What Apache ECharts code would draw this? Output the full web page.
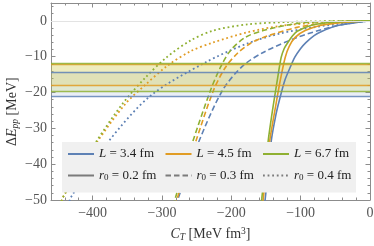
<!DOCTYPE html>
<html><head><meta charset="utf-8">
<script src="https://cdn.jsdelivr.net/npm/echarts@6/dist/echarts.min.js"></script>
<style>html,body{margin:0;padding:0;background:#fff}#c{width:374px;height:246px}</style>
</head><body><div id="c"></div>
<script>
// ---- data ----
const lLabels = ['L = 3.4 fm', 'L = 4.5 fm', 'L = 6.7 fm'];
const r0Labels = ['r0 = 0.2 fm', 'r0 = 0.3 fm', 'r0 = 0.4 fm'];

// L = 3.4 fm
const cT_L34_r02 = [-152.5, -151.1, -142.4, -136.0, -130.9, -123.0, -115.8, -108.6, -100.0, -92.1, -80.6, -69.1, -50.4, -33.1, -14.4, 0];
const dE_L34_r02 = [-51.7, -49.7, -33.5, -26.5, -22.3, -16.7, -13.3, -10.2, -7.7, -6.0, -4.1, -2.9, -1.5, -0.84, -0.28, 0];
const cT_L34_r03 = [-279.1, -276.3, -247.5, -213.0, -184.2, -154.0, -105.0, -57.6, -28.8, 0];
const dE_L34_r03 = [-51.7, -49.4, -34.0, -19.5, -12.7, -8.8, -4.6, -1.8, -0.64, 0];
const cT_L34_r04 = [-434.5, -431.7, -378.4, -316.5, -237.4, -177.0, -129.5, -82.0, -33.1, 0];
const dE_L34_r04 = [-51.7, -49.4, -34.0, -20.9, -11.6, -6.3, -3.5, -1.8, -0.56, 0];

// L = 4.5 fm
const cT_L45_r02 = [-155.4, -154.0, -144.6, -136.0, -129.5, -122.3, -116.5, -107.9, -93.5, -71.9, -46.0, -21.6, 0];
const dE_L45_r02 = [-51.7, -49.7, -33.5, -23.7, -16.7, -10.2, -7.1, -4.6, -2.7, -1.3, -0.56, -0.14, 0];
const cT_L45_r03 = [-280.6, -277.7, -251.8, -225.9, -208.6, -191.4, -172.7, -154.0, -105.0, -57.6, 0];
const dE_L45_r03 = [-51.7, -49.4, -34.0, -19.5, -13.0, -9.1, -6.3, -4.6, -1.8, -0.56, 0];
const cT_L45_r04 = [-446.0, -443.2, -394.2, -352.5, -323.7, -292.1, -259.0, -225.9, -177.0, -129.5, -82.0, -33.1, 0];
const dE_L45_r04 = [-51.7, -49.4, -34.0, -23.1, -17.8, -12.5, -8.5, -6.0, -3.2, -1.4, -0.56, -0.14, 0];

// L = 6.7 fm
const cT_L67_r02 = [-157.6, -156.1, -146.8, -143.9, -139.6, -133.8, -128.1, -123.7, -119.4, -112.2, -105.0, -82.0, -57.6, -28.8, 0];
const dE_L67_r02 = [-51.7, -49.7, -33.5, -29.3, -23.7, -16.7, -10.2, -7.7, -6.3, -4.3, -2.9, -1.1, -0.42, -0.14, 0];
const cT_L67_r03 = [-283.5, -280.6, -256.1, -230.2, -215.8, -201.4, -179.9, -154.0, -105.0, -57.6, 0];
const dE_L67_r03 = [-51.7, -49.4, -34.0, -19.5, -13.0, -8.3, -4.6, -2.7, -0.70, -0.14, 0];
const cT_L67_r04 = [-446.0, -443.2, -395.7, -356.8, -323.7, -293.5, -259.0, -226.0, -177.0, -115.1, -57.6, 0];
const dE_L67_r04 = [-51.7, -49.4, -34.0, -23.1, -15.8, -10.2, -5.5, -2.7, -0.98, -0.28, -0.08, 0];

// horizontal bands (per L): upper and lower edges
const bandTop = [-14.3, -12.2, -11.8];
const bandBottom = [-20.9, -18.1, -19.5];

// axis ranges / ticks
const xMin = -460, xMax = 0, xMinor = 20;
const yMin = -50, yMax = 5, yMajor = 10, yMinor = 2;

// ---- styles ----
const colL = ['#5e81b5', '#e19c24', '#8fb032'];
const bandFill = ['rgba(120,150,200,0.16)', 'rgba(235,190,60,0.18)', 'rgba(190,210,70,0.2)'];
const dashes = ['solid', [5.5, 3], [1.8, 2.8]];
const serif = 'Liberation Serif';
const frameCol = '#8c8c8c';

const curves = [
  [[cT_L34_r02, dE_L34_r02], [cT_L34_r03, dE_L34_r03], [cT_L34_r04, dE_L34_r04]],
  [[cT_L45_r02, dE_L45_r02], [cT_L45_r03, dE_L45_r03], [cT_L45_r04, dE_L45_r04]],
  [[cT_L67_r02, dE_L67_r02], [cT_L67_r03, dE_L67_r03], [cT_L67_r04, dE_L67_r04]]
];
const zip = (a, b) => a.map((v, i) => [v, b[i]]);

const series = [];
// bands
for (let i = 0; i < 3; i++) {
  series.push({
    type: 'line', data: [], silent: true, z: 1,
    markArea: { silent: true, itemStyle: { color: bandFill[i] },
      data: [[{ yAxis: bandBottom[i] }, { yAxis: bandTop[i] }]] },
    markLine: { silent: true, symbol: ['none', 'none'], label: { show: false },
      lineStyle: { color: colL[i], width: 1.3, type: 'solid', opacity: 0.85 },
      data: [{ yAxis: bandTop[i] }, { yAxis: bandBottom[i] }] }
  });
}
// zero line
series.push({
  type: 'line', data: [], silent: true, z: 1,
  markLine: { silent: true, symbol: ['none', 'none'], label: { show: false },
    lineStyle: { color: '#e3e3e3', width: 1, type: 'solid' }, data: [{ yAxis: 0 }] }
});
// curves
for (let i = 0; i < 3; i++) {
  for (let j = 0; j < 3; j++) {
    const [cx, ey] = curves[i][j];
    series.push({
      type: 'line', name: 'curve' + i + j, data: zip(cx, ey), symbol: 'none',
      smooth: 0.3, z: 3, silent: true,
      lineStyle: { color: colL[i], width: j === 2 ? 1.8 : 1.6, type: dashes[j] }
    });
  }
}
// legend entries
for (let i = 0; i < 3; i++) {
  series.push({ type: 'line', name: lLabels[i], data: [], symbol: 'none',
    itemStyle: { color: colL[i] }, lineStyle: { color: colL[i], width: 2, type: 'solid' } });
}
for (let j = 0; j < 3; j++) {
  series.push({ type: 'line', name: r0Labels[j], data: [], symbol: 'none',
    itemStyle: { color: '#7b7b7b' }, lineStyle: { color: '#7b7b7b', width: 2, type: dashes[j] } });
}

const minus = v => (v < 0 ? '\u2212' + Math.abs(v) : '' + v);
const tickStyle = (len) => ({ show: true, inside: true, length: len, lineStyle: { color: frameCol, width: 1 } });
const lineOn = { show: true, onZero: false, lineStyle: { color: frameCol, width: 1 } };
const lineOff = { show: false, onZero: false };

const xBase = { type: 'value', min: xMin, max: xMax, splitLine: { show: false }, gridIndex: 0 };
const yBase = { type: 'value', min: yMin, max: yMax, splitLine: { show: false }, gridIndex: 0 };

const nameRich = {
  n: { fontFamily: serif, fontSize: 14, fill: '#333', color: '#333', lineHeight: 16 },
  i: { fontFamily: serif, fontSize: 14, fill: '#333', color: '#333', fontStyle: 'italic', lineHeight: 16 },
  s: { fontFamily: serif, fontSize: 9.5, fill: '#333', color: '#333', fontStyle: 'italic', lineHeight: 9, verticalAlign: 'bottom' },
  p: { fontFamily: serif, fontSize: 9.5, fill: '#333', color: '#333', lineHeight: 9, verticalAlign: 'top' }
};

const option = {
  animation: false,
  backgroundColor: '#fff',
  grid: { left: 51, right: 4, top: 3, bottom: 46, containLabel: false, outerBoundsMode: 'none' },
  xAxis: [
    Object.assign({}, xBase, { position: 'bottom', splitNumber: 5,
      axisLine: lineOn, axisTick: tickStyle(4.5),
      axisLabel: { show: true, margin: 6, showMinLabel: false, fontFamily: serif, fontSize: 14, color: '#555', formatter: minus },
      name: '{i|C}{s|T}{n| [MeV fm}{p|3}{n|]}', nameLocation: 'middle', nameGap: 26,
      nameTextStyle: { rich: nameRich } }),
    Object.assign({}, xBase, { position: 'bottom', interval: xMinor,
      axisLine: lineOff, axisTick: tickStyle(2.5), axisLabel: { show: false } }),
    Object.assign({}, xBase, { position: 'top', splitNumber: 5,
      axisLine: lineOn, axisTick: tickStyle(4.5), axisLabel: { show: false } }),
    Object.assign({}, xBase, { position: 'top', interval: xMinor,
      axisLine: lineOff, axisTick: tickStyle(2.5), axisLabel: { show: false } })
  ],
  yAxis: [
    Object.assign({}, yBase, { position: 'left', interval: yMajor,
      axisLine: lineOn, axisTick: tickStyle(4.5),
      axisLabel: { show: true, margin: 4, showMaxLabel: false, fontFamily: serif, fontSize: 14, color: '#555', formatter: minus } }),
    Object.assign({}, yBase, { position: 'left', interval: yMinor,
      axisLine: lineOff, axisTick: tickStyle(2.5), axisLabel: { show: false } }),
    Object.assign({}, yBase, { position: 'right', interval: yMajor,
      axisLine: lineOn, axisTick: tickStyle(4.5), axisLabel: { show: false } }),
    Object.assign({}, yBase, { position: 'right', interval: yMinor,
      axisLine: lineOff, axisTick: tickStyle(2.5), axisLabel: { show: false } })
  ],
  graphic: [{
    type: 'text', z: 20,
    x: 12, y: 146, rotation: Math.PI / 2,
    style: { text: '{n|\u0394}{i|E}{s|pp}{n| [MeV]}', rich: nameRich,
      align: 'left', verticalAlign: 'middle', fill: '#333' }
  }],
  legend: {
    data: lLabels.concat(r0Labels),
    left: 62, top: 142, width: 285, orient: 'horizontal',
    padding: [5, 4, 10, 5], itemGap: 7.5, itemWidth: 26, itemHeight: 14,
    backgroundColor: '#f0f0f0', z: 10, selectedMode: false,
    itemStyle: { opacity: 0 },
    formatter: function (name) {
      if (name[0] === 'L') return '{i|L}' + name.slice(1);
      return '{i|r}{s|0}' + name.slice(2);
    },
    textStyle: {
      fontFamily: serif, fontSize: 13, color: '#222', width: 58, lineHeight: 14,
      rich: {
        i: { fontFamily: serif, fontSize: 13, color: '#222', fontStyle: 'italic', lineHeight: 14 },
        s: { fontFamily: serif, fontSize: 9, color: '#222', lineHeight: 9, verticalAlign: 'bottom' }
      }
    }
  },
  series: series
};

const chart = echarts.init(document.getElementById('c'), null, { renderer: 'canvas' });
chart.setOption(option);
</script>
</body></html>
